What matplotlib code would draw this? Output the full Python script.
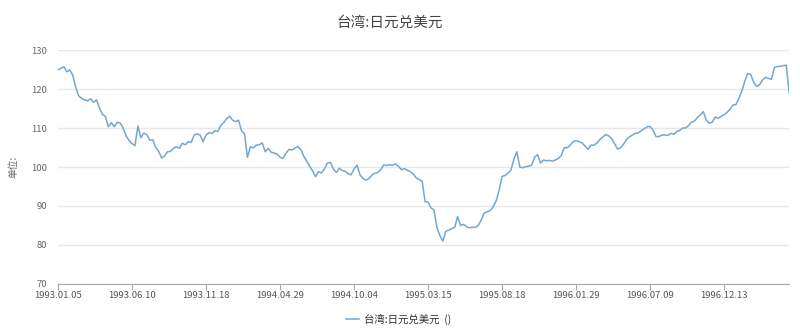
import matplotlib
matplotlib.use("Agg")
import matplotlib.pyplot as plt

plt.rcParams['font.family'] = ['Noto Sans CJK SC', 'DejaVu Sans']

title = "台湾:日元兑美元"
series_name = "台湾:日元兑美元  ()"
y_label = "单位:"

tick_labels = ["1993.01.05", "1993.06.10", "1993.11.18", "1994.04.29", "1994.10.04",
               "1995.03.15", "1995.08.18", "1996.01.29", "1996.07.09", "1996.12.13"]
tick_step = 25  # points between labelled dates

# yen per US dollar in order
rate = [
    124.9, 125.3, 125.7, 124.4, 124.9, 123.5, 120.4, 118.2, 117.6, 117.2,
    117.0, 117.5, 116.6, 117.2, 115.2, 113.5, 113.0, 110.3, 111.4, 110.3,
    111.5, 111.3, 110.0, 108.0, 106.8, 106.0, 105.5, 110.5, 107.5, 108.7,
    108.3, 106.9, 107.0, 105.0, 104.0, 102.3, 102.8, 103.9, 104.0, 104.8,
    105.2, 104.8, 106.1, 105.7, 106.5, 106.3, 108.2, 108.5, 108.2, 106.5,
    108.2, 108.8, 108.6, 109.3, 109.1, 110.7, 111.4, 112.4, 113.0, 112.0,
    111.6, 112.0, 109.3, 108.5, 102.5, 105.2, 104.9, 105.6, 105.7, 106.2,
    103.9, 104.8, 103.8, 103.6, 103.3, 102.5, 102.2, 103.5, 104.5, 104.4,
    104.8, 105.3, 104.5, 102.8, 101.5, 100.2, 99.0, 97.5, 98.8, 98.5,
    99.5, 101.0, 101.2, 99.5, 98.6, 99.7, 99.1, 98.9, 98.3, 98.0,
    99.5, 100.5, 98.0, 97.1, 96.6, 97.0, 97.9, 98.4, 98.6, 99.3,
    100.5, 100.4, 100.6, 100.4, 100.8, 100.2, 99.3, 99.6, 99.2, 98.8,
    98.2, 97.2, 96.8, 96.4, 91.1, 91.0, 89.5, 89.0, 84.5, 82.4,
    81.0, 83.5, 83.8, 84.2, 84.5, 87.3, 85.0, 85.3, 84.7, 84.4,
    84.6, 84.5, 85.0, 86.5, 88.2, 88.5, 88.8, 89.8, 91.3, 94.0,
    97.6, 97.8, 98.4, 99.2, 102.0, 103.9, 100.0, 99.8, 100.1, 100.2,
    100.5, 102.5, 103.2, 101.0, 101.8, 101.6, 101.7, 101.5, 101.8, 102.2,
    102.9, 105.0, 104.9, 105.6, 106.5, 106.8, 106.5, 106.2, 105.4, 104.5,
    105.6, 105.6, 106.1, 107.0, 107.7, 108.3, 108.0, 107.3, 106.0, 104.6,
    104.9, 105.8, 107.0, 107.7, 108.2, 108.6, 108.7, 109.3, 109.8, 110.3,
    110.4, 109.5, 107.8, 107.8, 108.2, 108.2, 108.1, 108.6, 108.4, 109.1,
    109.4, 110.0, 110.0, 110.6, 111.5, 111.8, 112.7, 113.3, 114.2, 112.0,
    111.2, 111.5, 112.8, 112.5, 113.0, 113.4, 114.0, 114.8, 115.9, 116.0,
    117.6, 119.5, 122.0, 124.0, 123.7, 121.7, 120.7, 121.1, 122.3, 123.0,
    122.7, 122.5, 125.5, 125.8, 125.8, 126.0, 126.1, 119.0,
]

fig = plt.figure(figsize=(8.0, 3.29), dpi=100)
ax = fig.add_axes([0.0725, 0.1368, 0.914, 0.7112])

ax.plot(range(len(rate)), rate, color="#74a7d0", linewidth=1.1, label=series_name)

ax.set_xlim(0, len(rate) - 1)
ax.set_ylim(70, 130)
ax.set_yticks(range(70, 131, 10))
ax.set_xticks(range(0, tick_step * len(tick_labels), tick_step))
ax.set_xticklabels(tick_labels)

ax.grid(axis="y", color="#e8e8e8", linewidth=1.0)
ax.set_axisbelow(True)
for s in ["top", "right", "left"]:
    ax.spines[s].set_visible(False)
ax.spines["bottom"].set_color("#aaaaaa")
ax.tick_params(axis="y", length=0, pad=8, labelsize=6.8, labelcolor="#666666")
ax.tick_params(axis="x", length=4, color="#aaaaaa", pad=1, labelsize=6.8, labelcolor="#555555")

ax.set_ylabel(y_label, fontsize=7, color="#666666", labelpad=9)

fig.text(0.487, 0.93, title, ha="center", va="center", fontsize=10.5, color="#444444")

ax.legend(loc="center", bbox_to_anchor=(0.498, 0.03), bbox_transform=fig.transFigure,
          frameon=False, fontsize=7.5, handlelength=1.3, handletextpad=0.4,
          labelcolor="#333333")

fig.savefig("out.png", dpi=100)
